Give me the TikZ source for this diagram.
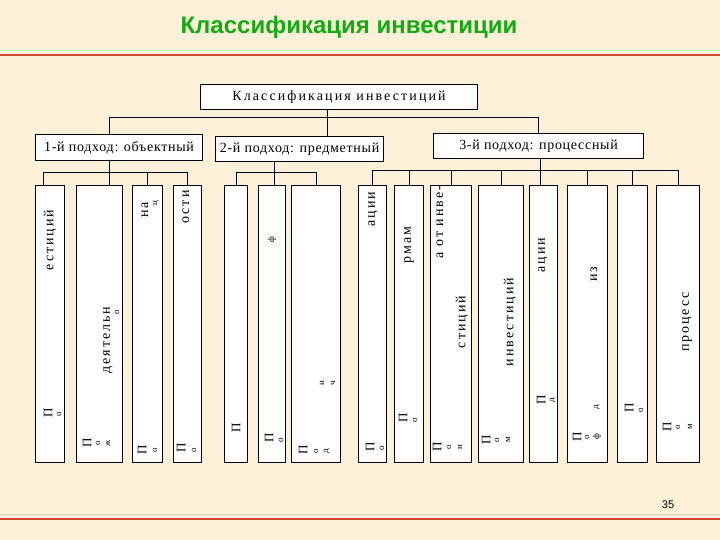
\documentclass[tikz,border=0pt]{standalone}
\usepackage{fontspec}
\setmainfont{Liberation Serif}
\newfontfamily\headfont{Liberation Sans}
\newfontfamily\rootfont{Liberation Serif}[LetterSpace=15]
\newfontfamily\boxfont{Liberation Serif}[LetterSpace=5]
\newfontfamily\fragfont{Liberation Serif}[LetterSpace=14]
\usepackage{tikz}
\usetikzlibrary{positioning,calc}
\definecolor{parch}{RGB}{252,241,216}
\definecolor{headgreen}{RGB}{20,170,20}
\definecolor{rule}{RGB}{205,70,45}
\tikzset{
  hbox/.style={draw, fill=white, line width=1.1pt, inner sep=0pt, anchor=north west,
               font=\boxfont\fontsize{14}{16}\selectfont},
  leaf/.style={draw, fill=white, line width=1.1pt, inner sep=0pt, anchor=north west,
               minimum height=277pt},
  link/.style={line width=1pt},
  frag/.style={rotate=90, inner sep=0pt, font=\fragfont\fontsize{14}{16}\selectfont},
  letr/.style={frag, font=\fontsize{13}{15}\selectfont},
  small/.style={frag, font=\fontsize{9}{10}\selectfont}
}

\begin{document}
\begin{tikzpicture}[x=1pt, y=-1pt]
\useasboundingbox[fill=parch] (0,0) rectangle (720,540);
% title and rules
\node[font=\headfont\bfseries\fontsize{24}{26}\selectfont, text=headgreen] (title) at (349,27) {Классификация инвестиции};
\draw[white!70!green, line width=0.8pt] (0,50.5) -- (720,50.5);
\draw[rule, line width=2.6pt] (0,55) -- (720,55);
\draw[rule!30!white, line width=0.8pt] (0,514.5) -- (720,514.5);
\draw[rule, line width=2.6pt] (0,519) -- (720,519);
\node[font=\headfont\fontsize{11}{12}\selectfont] (pg) at (668,505) {35};

% top level
\node[hbox, font=\rootfont\fontsize{14}{16}\selectfont, minimum width=277pt, minimum height=25pt] (root) at (200,84) {Классификация инвестиций};
\node[hbox, minimum width=167pt, minimum height=26pt] (p1) at (35,134) {1-й подход: объектный};
\node[hbox, minimum width=168pt, minimum height=25pt] (p2) at (215,136) {2-й подход: предметный};
\node[hbox, minimum width=210pt, minimum height=25pt] (p3) at (433,133) {3-й подход: процессный};

% leaves
\foreach \n/\a/\b in {1/35/64, 2/76/122, 3/132/162, 4/173/201,
                      5/224/247, 6/258/285, 7/291/340,
                      8/358/386, 9/394/423, 10/430/471, 11/478/523,
                      12/529/557, 13/567/607, 14/617/647, 15/656/699}
  \node[leaf, minimum width=\b-\a] (l\n) at (\a,185) {};

% connectors
\draw[link] ([xshift=-12pt]root.south) -- ([xshift=-12pt]root.south |- p2.north);
\draw[link] ([xshift=-9.5pt]p1.north) |- ([yshift=15pt]p3.north) -- (p3.north);
\draw[link] ([xshift=-9.5pt]p1.south) -- ([xshift=-9.5pt]p1.south |- l2.north);
\draw[link] ([xshift=-6.5pt]l1.north) |- ([yshift=12pt]l4.north) -- (l4.north);
\draw[link] (l3.north) -- ++(0,-12);
\draw[link] ([xshift=-25pt]p2.south) -- ([xshift=-25pt]p2.south |- l6.north);
\draw[link] (l5.north) |- ([yshift=12pt]l7.north) -- (l7.north);
\draw[link] ([xshift=2pt]p3.south) -- ([xshift=2pt]p3.south |- l12.north);
\draw[link] (l8.north) |- ([yshift=14pt]l15.north) -- (l15.north);
\foreach \n in {9,10,11,13,14}
  \draw[link] (l\n.north) -- ++(0,-14);

% clipped words in the leaves
\foreach \x/\y/\t [count=\i] in {50/240/естиций, 108/340/деятельн, 145/210/на,
    186/207/ости, 373/209/ации, 409/245/рмам, 440/222/а от инве-,
    462/322/стиций, 510/322/инвестиций, 543/255/ации, 594/274/из, 687/322/процесс}
  \node[frag] (w\i) at (\x,\y) {\t};
\foreach \x/\y [count=\i] in {48/413, 87/443, 142/450, 181/448, 236/428, 269/438,
    303/450, 370/447, 403/418, 437/447, 486/440, 541/400, 577/437, 629/408, 667/427}
  \node[letr] (c\i) at (\x,\y) {П};
\foreach \x/\y/\t [count=\i] in {59/414/о, 117/312/о, 98/443/о, 108/443/ж, 156/203/ц,
    155/450/о, 194/450/о, 272/240/ф, 281/440/о, 322/383/и, 333/383/ч, 316/451/о,
    327/451/д, 382/448/о, 415/420/о, 449/447/о, 460/447/н, 497/440/о, 508/440/м,
    553/400/д, 587/437/о, 597/437/ф, 597/407/д, 641/410/о, 678/427/о, 690/427/м}
  \node[small] (s\i) at (\x,\y) {\t};
\end{tikzpicture}
\end{document}
